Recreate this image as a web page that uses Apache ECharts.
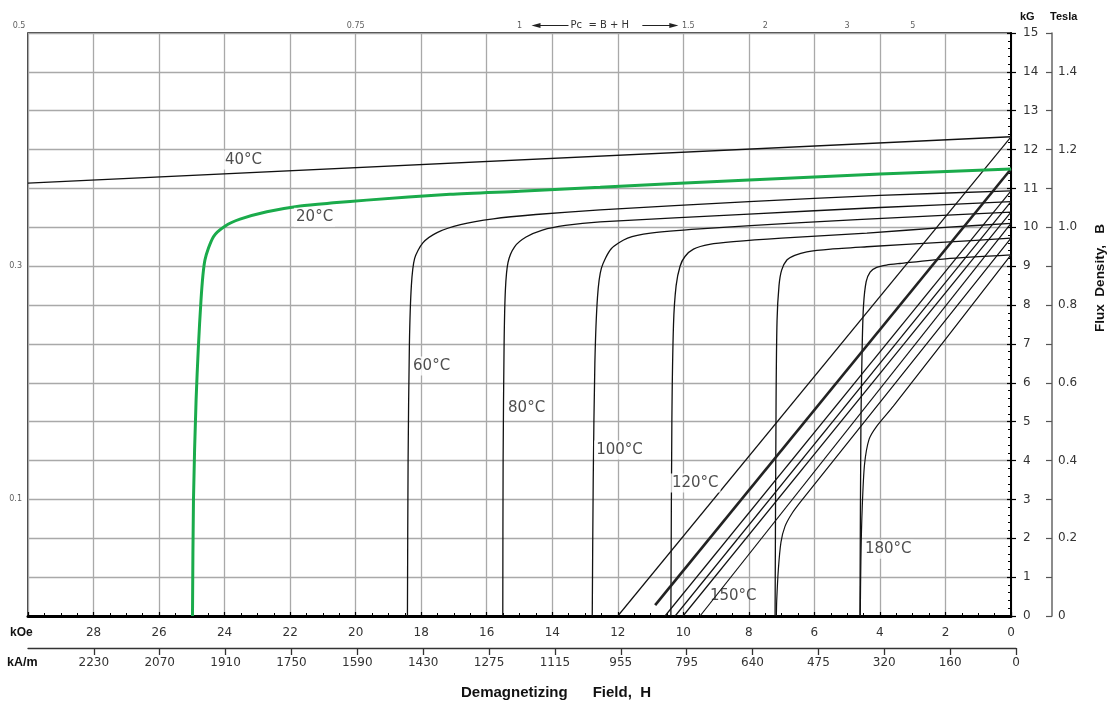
<!DOCTYPE html>
<html>
<head>
<meta charset="utf-8">
<script src="https://cdn.jsdelivr.net/npm/echarts@6/dist/echarts.min.js"></script>
<style>
  html, body { margin: 0; padding: 0; background: #fff; }
  #chart { width: 1110px; height: 704px; }
</style>
</head>
<body>
<div id="chart"></div>
<script>
// Demagnetization curves: field H in kOe (reversed, 30 -> 0), flux density B in kG.
// Each curve is a list of [H (kOe), B (kG)] points.

// Upper straight curve labelled 40°C and the green 20°C curve
const curve40 = [[30, 11.14], [0, 12.33]];
const curve20 = [
  [0, 11.50], [4, 11.37], [8, 11.22], [12.54, 11.03], [15, 10.93], [17.12, 10.85],
  [19.66, 10.70], [20.68, 10.63], [21.69, 10.55], [22.71, 10.40], [23.53, 10.21],
  [23.99, 10.03], [24.34, 9.76], [24.60, 9.16], [24.72, 8.13], [24.87, 5.56],
  [24.95, 2.98], [24.98, 0]
];

// Knee curves at higher temperatures
const curve60 = [
  [0, 10.94], [4, 10.82], [8, 10.66], [12.54, 10.45], [14.5, 10.33], [15.8, 10.22],
  [16.8, 10.07], [17.5, 9.87], [17.95, 9.60], [18.2, 9.20], [18.3, 8.50],
  [18.36, 7.0], [18.4, 4.0], [18.42, 0]
];
const curve80 = [
  [0, 10.66], [4, 10.51], [8, 10.34], [12.54, 10.14], [13.6, 10.05], [14.3, 9.93],
  [14.8, 9.75], [15.15, 9.50], [15.35, 9.10], [15.43, 8.40], [15.47, 7.0],
  [15.5, 4.0], [15.51, 0]
];
const curve100 = [
  [0, 10.39], [3, 10.27], [6.4, 10.12], [9.5, 9.96], [11.0, 9.85], [11.7, 9.72],
  [12.2, 9.45], [12.5, 8.95], [12.62, 8.20], [12.7, 6.5], [12.75, 3.5], [12.78, 0]
];
const curve120 = [
  [0, 10.10], [2, 10.00], [4.4, 9.85], [7, 9.72], [8.47, 9.63], [9.2, 9.56],
  [9.69, 9.44], [9.95, 9.25], [10.1, 9.00], [10.22, 8.50], [10.3, 7.5],
  [10.35, 5.0], [10.38, 0]
];
const curve150 = [
  [0, 9.72], [2, 9.62], [4.4, 9.50], [5.5, 9.44], [6.23, 9.37], [6.6, 9.28],
  [6.84, 9.16], [7.0, 8.90], [7.08, 8.50], [7.14, 7.60], [7.17, 5.5], [7.2, 0]
];
const curve180 = [
  [0, 9.29], [2, 9.19], [3.39, 9.07], [3.8, 9.03], [4.1, 8.97], [4.3, 8.85],
  [4.42, 8.60], [4.5, 8.00], [4.54, 7.0], [4.58, 5.0], [4.61, 0]
];

// Near-straight normal curves starting from each curve's remanence
const normal40 = [[0, 12.33], [12.0, 0]];
const normal20 = [[0, 11.50], [10.86, 0.28]];
const normal60 = [[0, 10.94], [10.56, 0]];
const normal80 = [[0, 10.66], [10.25, 0]];
const normal100 = [[0, 10.39], [10.01, 0]];
const normal120 = [[0, 10.10], [9.49, 0]];
const normal150 = [
  [0, 9.72], [6.4, 2.96], [6.69, 2.63], [6.9, 2.30], [7.02, 1.90], [7.1, 1.20],
  [7.15, 0.40], [7.16, 0]
];
const normal180 = [
  [0, 9.29], [3.59, 5.40], [4.1, 4.88], [4.33, 4.55], [4.47, 3.90], [4.54, 2.80],
  [4.58, 1.50], [4.6, 0]
];

// Temperature captions: text and the [H, B] point where each one starts
const tempLabels = ['40°C', '20°C', '60°C', '80°C', '100°C', '120°C', '150°C', '180°C'];
const tempLabelPoints = [
  [24.05, 11.73], [21.88, 10.26], [18.31, 6.43], [15.41, 5.35],
  [12.72, 4.27], [10.41, 3.42], [9.25, 0.51], [4.52, 1.72]
];

// Permeance coefficient marks (Pc = B / H) along the top and left edges
const pcTop = [0.5, 0.75, 1, 1.5, 2, 3, 5];
const pcLeft = [0.3, 0.1];

// Second field scale in kA/m, placed at the matching kOe positions
const kamTickKOe = [0, 2, 4, 6, 8, 10, 12, 14, 16, 18, 20, 22, 24, 26, 28];
const kamLabels = ['0', '160', '320', '475', '640', '795', '955', '1115', '1275',
                   '1430', '1590', '1750', '1910', '2070', '2230'];

const H_MAX = 30;
const B_MAX = 15;
const FONT = 'DejaVu Sans';
const BOLD_FONT = 'Liberation Sans';
const GRID_COLOR = '#a9a9a9';
const TICK_TEXT = '#333';

const chart = echarts.init(document.getElementById('chart'), null, { renderer: 'canvas' });

function curveSeries(name, data, color, width, z) {
  return {
    name, type: 'line', data,
    xAxisIndex: 0, yAxisIndex: 0,
    showSymbol: false, symbol: 'none',
    smooth: 0.25,
    lineStyle: { color, width },
    z: z || 3, silent: true, animation: false
  };
}

const pcLabelShift = { 0.5: -9, 1.5: 5 };

const series = [
  curveSeries('40°C', curve40, '#111', 1.3),
  curveSeries('60°C', curve60, '#111', 1.3),
  curveSeries('80°C', curve80, '#111', 1.3),
  curveSeries('100°C', curve100, '#111', 1.3),
  curveSeries('120°C', curve120, '#111', 1.3),
  curveSeries('150°C', curve150, '#111', 1.3),
  curveSeries('180°C', curve180, '#111', 1.3),
  curveSeries('B 40°C', normal40, '#111', 1.2),
  curveSeries('B 60°C', normal60, '#111', 1.2),
  curveSeries('B 80°C', normal80, '#111', 1.2),
  curveSeries('B 100°C', normal100, '#111', 1.2),
  curveSeries('B 120°C', normal120, '#111', 1.2),
  curveSeries('B 150°C', normal150, '#111', 1.2),
  curveSeries('B 180°C', normal180, '#111', 1.2),
  curveSeries('B 20°C', normal20, '#222', 2.6, 4),
  curveSeries('20°C', curve20, '#1aab4b', 3, 5),
  {
    name: 'temperatures', type: 'scatter', xAxisIndex: 0, yAxisIndex: 0,
    symbolSize: 0, clip: false, silent: true, animation: false, z: 8,
    data: tempLabels.map((t, i) => ({
      name: t, value: tempLabelPoints[i],
      // the lowest caption sits against a line end, so it keeps a clear background
      label: t === '150°C' ? { backgroundColor: 'transparent' } : undefined
    })),
    label: {
      show: true, position: 'right', distance: 0, formatter: '{b}',
      fontFamily: FONT, fontSize: 15, color: '#222',
      backgroundColor: '#fff', padding: [2, 2]
    }
  },
  {
    name: 'Pc top', type: 'scatter', xAxisIndex: 0, yAxisIndex: 0,
    symbolSize: 0, clip: false, silent: true, animation: false, z: 8,
    data: pcTop.map(p => ({
      name: String(p), value: [B_MAX / p, B_MAX],
      label: { offset: [pcLabelShift[p] || 0, 0] }
    })),
    label: {
      show: true, position: 'top', distance: 3, formatter: '{b}',
      fontFamily: FONT, fontSize: 8, color: TICK_TEXT
    }
  },
  {
    name: 'Pc left', type: 'scatter', xAxisIndex: 0, yAxisIndex: 0,
    symbolSize: 0, clip: false, silent: true, animation: false, z: 8,
    data: pcLeft.map(p => ({ name: String(p), value: [H_MAX, H_MAX * p] })),
    label: {
      show: true, position: 'left', distance: 6, formatter: '{b}',
      fontFamily: FONT, fontSize: 8, color: TICK_TEXT
    }
  }
];

const option = {
  backgroundColor: '#fff',
  animation: false,
  grid: [
    { left: 28, right: 99, top: 33, bottom: 88, show: true, borderColor: '#000', borderWidth: 1.5,
      backgroundColor: 'transparent', outerBoundsMode: 'none' },
    { left: 28, right: 94, top: 640, bottom: 56, outerBoundsMode: 'none' }
  ],
  xAxis: [
    {
      gridIndex: 0, type: 'value', min: 0, max: H_MAX, interval: 2, inverse: true,
      position: 'bottom',
      axisLine: { show: true, lineStyle: { color: '#000', width: 3 } },
      axisTick: { show: true, inside: true, length: 4, lineStyle: { color: '#000', width: 1.2 } },
      minorTick: { show: true, splitNumber: 4, length: 3, lineStyle: { color: '#000', width: 1 } },
      splitLine: { show: true, lineStyle: { color: GRID_COLOR, width: 1.3 } },
      axisLabel: {
        margin: 11, color: TICK_TEXT, fontFamily: FONT, fontSize: 12,
        formatter: v => (v >= H_MAX ? '' : String(v))
      }
    },
    {
      gridIndex: 1, type: 'value', min: 0, max: H_MAX, inverse: true, position: 'bottom',
      axisLine: { show: true, lineStyle: { color: '#333', width: 1.3 } },
      axisTick: { show: true, length: 7, customValues: kamTickKOe, lineStyle: { color: '#333', width: 1.3 } },
      splitLine: { show: false },
      axisLabel: {
        margin: 9, color: TICK_TEXT, fontFamily: FONT, fontSize: 12,
        customValues: kamTickKOe,
        formatter: v => kamLabels[kamTickKOe.indexOf(Math.round(v))] || ''
      }
    }
  ],
  yAxis: [
    {
      gridIndex: 0, type: 'value', min: 0, max: B_MAX, interval: 1, position: 'right',
      axisLine: { show: true, lineStyle: { color: '#000', width: 2 } },
      axisTick: { show: true, inside: false, length: 5, lineStyle: { color: '#000', width: 1.2 } },
      splitLine: { show: true, lineStyle: { color: GRID_COLOR, width: 1.3 } },
      axisLabel: { margin: 12, color: TICK_TEXT, fontFamily: FONT, fontSize: 12 }
    },
    {
      gridIndex: 0, type: 'value', min: 0, max: 1.5, interval: 0.1, position: 'right', offset: 41,
      axisLine: { show: true, lineStyle: { color: '#666', width: 1.5 } },
      axisTick: { show: true, inside: true, length: 6, lineStyle: { color: '#555', width: 1.2 } },
      splitLine: { show: false },
      axisLabel: {
        margin: 6, color: TICK_TEXT, fontFamily: FONT, fontSize: 12,
        formatter: v => {
          const t = Math.round(v * 10);
          if (t % 2 !== 0) return '';
          return t === 0 ? '0' : (t / 10).toFixed(1);
        }
      }
    },
    {
      gridIndex: 0, type: 'value', min: 0, max: B_MAX, interval: 1, position: 'right',
      axisLine: { show: false },
      axisTick: { show: true, inside: true, length: 4, lineStyle: { color: '#000', width: 1.2 } },
      minorTick: { show: true, splitNumber: 5, length: 3, lineStyle: { color: '#000', width: 1 } },
      splitLine: { show: false },
      axisLabel: { show: false }
    },
    { gridIndex: 1, type: 'value', show: false, min: 0, max: 1 }
  ],
  series
};

chart.setOption(option);

// Unit captions, axis titles and the Pc arrow note
function drawAnnotations() {
  const pcA = chart.convertToPixel({ xAxisIndex: 0, yAxisIndex: 0 }, [B_MAX / 1, B_MAX]);
  const pcB = chart.convertToPixel({ xAxisIndex: 0, yAxisIndex: 0 }, [B_MAX / 1.5, B_MAX]);
  const ay = pcA[1] - 7.5;
  const ink = '#222';
  const bold = (size) => ({ fontFamily: BOLD_FONT, fontWeight: 'bold', fontSize: size, fill: '#111' });

  chart.setOption({
    graphic: [
      { type: 'line', shape: { x1: pcA[0] + 17, y1: ay, x2: pcA[0] + 49, y2: ay }, style: { stroke: ink, lineWidth: 1 } },
      { type: 'polygon', shape: { points: [[pcA[0] + 12, ay], [pcA[0] + 21, ay - 2.5], [pcA[0] + 21, ay + 2.5]] }, style: { fill: ink } },
      { type: 'text', x: pcA[0] + 51, y: ay,
        style: { text: 'Pc  = B + H', fontFamily: FONT, fontSize: 10, fill: '#333', verticalAlign: 'middle', align: 'left' } },
      { type: 'line', shape: { x1: pcB[0] - 41, y1: ay, x2: pcB[0] - 12, y2: ay }, style: { stroke: ink, lineWidth: 1 } },
      { type: 'polygon', shape: { points: [[pcB[0] - 5, ay], [pcB[0] - 14, ay - 2.5], [pcB[0] - 14, ay + 2.5]] }, style: { fill: ink } },

      { type: 'text', x: 1020, y: 17, style: Object.assign({ text: 'kG', verticalAlign: 'middle' }, bold(11)) },
      { type: 'text', x: 1050, y: 17, style: Object.assign({ text: 'Tesla', verticalAlign: 'middle' }, bold(11)) },
      { type: 'text', x: 1100, y: 278, rotation: Math.PI / 2,
        style: Object.assign({ text: 'Flux  Density,   B', align: 'center', verticalAlign: 'middle' }, bold(13.5)) },

      { type: 'text', x: 10, y: 633, style: Object.assign({ text: 'kOe', verticalAlign: 'middle' }, bold(12)) },
      { type: 'text', x: 7, y: 663, style: Object.assign({ text: 'kA/m', verticalAlign: 'middle' }, bold(12.5)) },
      { type: 'text', x: 461, y: 693,
        style: Object.assign({ text: 'Demagnetizing      Field,  H', verticalAlign: 'middle' }, bold(15)) }
    ]
  });
}
drawAnnotations();
</script>
</body>
</html>
